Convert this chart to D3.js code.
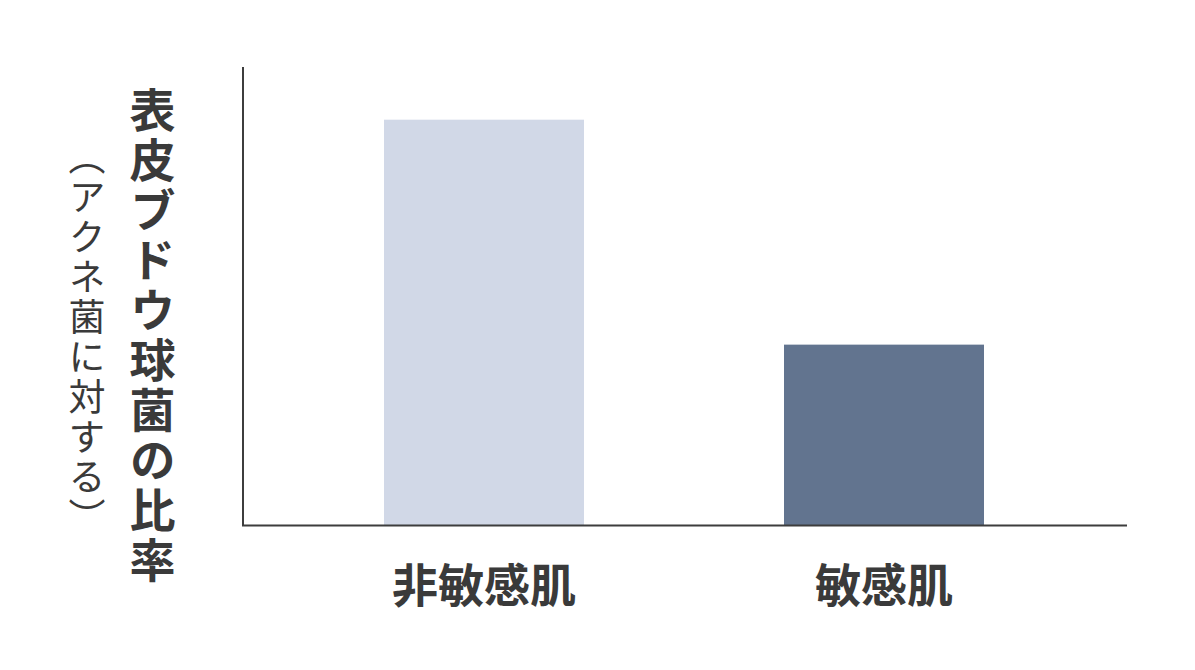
<!DOCTYPE html>
<html>
<head>
<meta charset="utf-8">
<script src="https://cdn.jsdelivr.net/npm/d3@7"></script>
<style>
  html, body { margin: 0; padding: 0; background: #ffffff; }
  svg { display: block; }
  .vt { writing-mode: vertical-rl; text-orientation: mixed; }
</style>
</head>
<body>
<svg id="chart" width="1195" height="670"></svg>
<script>
// ---- data ----
const categories = ["非敏感肌", "敏感肌"];
const values = [100, 44.5];           // 表皮ブドウ球菌の比率（相対値, 目盛なし）
const barColors = ["#d1d8e7", "#62748f"];
const yTitle = "表皮ブドウ球菌の比率";
const ySubTitle = "（アクネ菌に対する）";
const yDomainMax = 113;

// ---- layout ----
const plot = { left: 243, right: 1127, top: 67, bottom: 525 };
const textColor = "#3a3a3a";
const axisColor = "#3d3d3d";
const cjk = "'Noto Sans CJK JP', 'Noto Sans CJK SC', sans-serif";

const svg = d3.select("#chart");

const x = d3.scaleBand()
  .domain(categories)
  .range([284, 1084])
  .paddingInner(0.5)
  .paddingOuter(0.25);

const y = d3.scaleLinear()
  .domain([0, yDomainMax])
  .range([plot.bottom, plot.top]);

// bars
svg.append("g").selectAll("rect")
  .data(categories)
  .join("rect")
  .attr("x", d => x(d))
  .attr("width", x.bandwidth())
  .attr("y", (d, i) => y(values[i]))
  .attr("height", (d, i) => y(0) - y(values[i]))
  .attr("fill", (d, i) => barColors[i]);

// axes lines
svg.append("line")
  .attr("x1", plot.left).attr("x2", plot.left)
  .attr("y1", plot.top).attr("y2", plot.bottom + 1)
  .attr("stroke", axisColor).attr("stroke-width", 2);
svg.append("line")
  .attr("x1", plot.left - 1).attr("x2", plot.right)
  .attr("y1", plot.bottom + 0.5).attr("y2", plot.bottom + 0.5)
  .attr("stroke", axisColor).attr("stroke-width", 2);

// category labels
svg.append("g").selectAll("text")
  .data(categories)
  .join("text")
  .attr("x", d => x(d) + x.bandwidth() / 2)
  .attr("y", 582)
  .attr("text-anchor", "middle")
  .attr("dominant-baseline", "central")
  .attr("font-family", cjk)
  .attr("font-weight", 600)
  .attr("font-size", 46)
  .attr("fill", textColor)
  .text(d => d);

// vertical titles
svg.append("text")
  .attr("class", "vt")
  .attr("x", 152.5)
  .attr("y", 87)
  .attr("font-family", cjk)
  .attr("font-weight", 600)
  .attr("font-size", 46)
  .attr("letter-spacing", 4)
  .attr("fill", textColor)
  .text(yTitle);

svg.append("text")
  .attr("class", "vt")
  .attr("x", 87)
  .attr("y", 138)
  .attr("font-family", cjk)
  .attr("font-weight", 400)
  .attr("font-size", 37)
  .attr("letter-spacing", 3)
  .attr("fill", textColor)
  .text(ySubTitle);
</script>
</body>
</html>
